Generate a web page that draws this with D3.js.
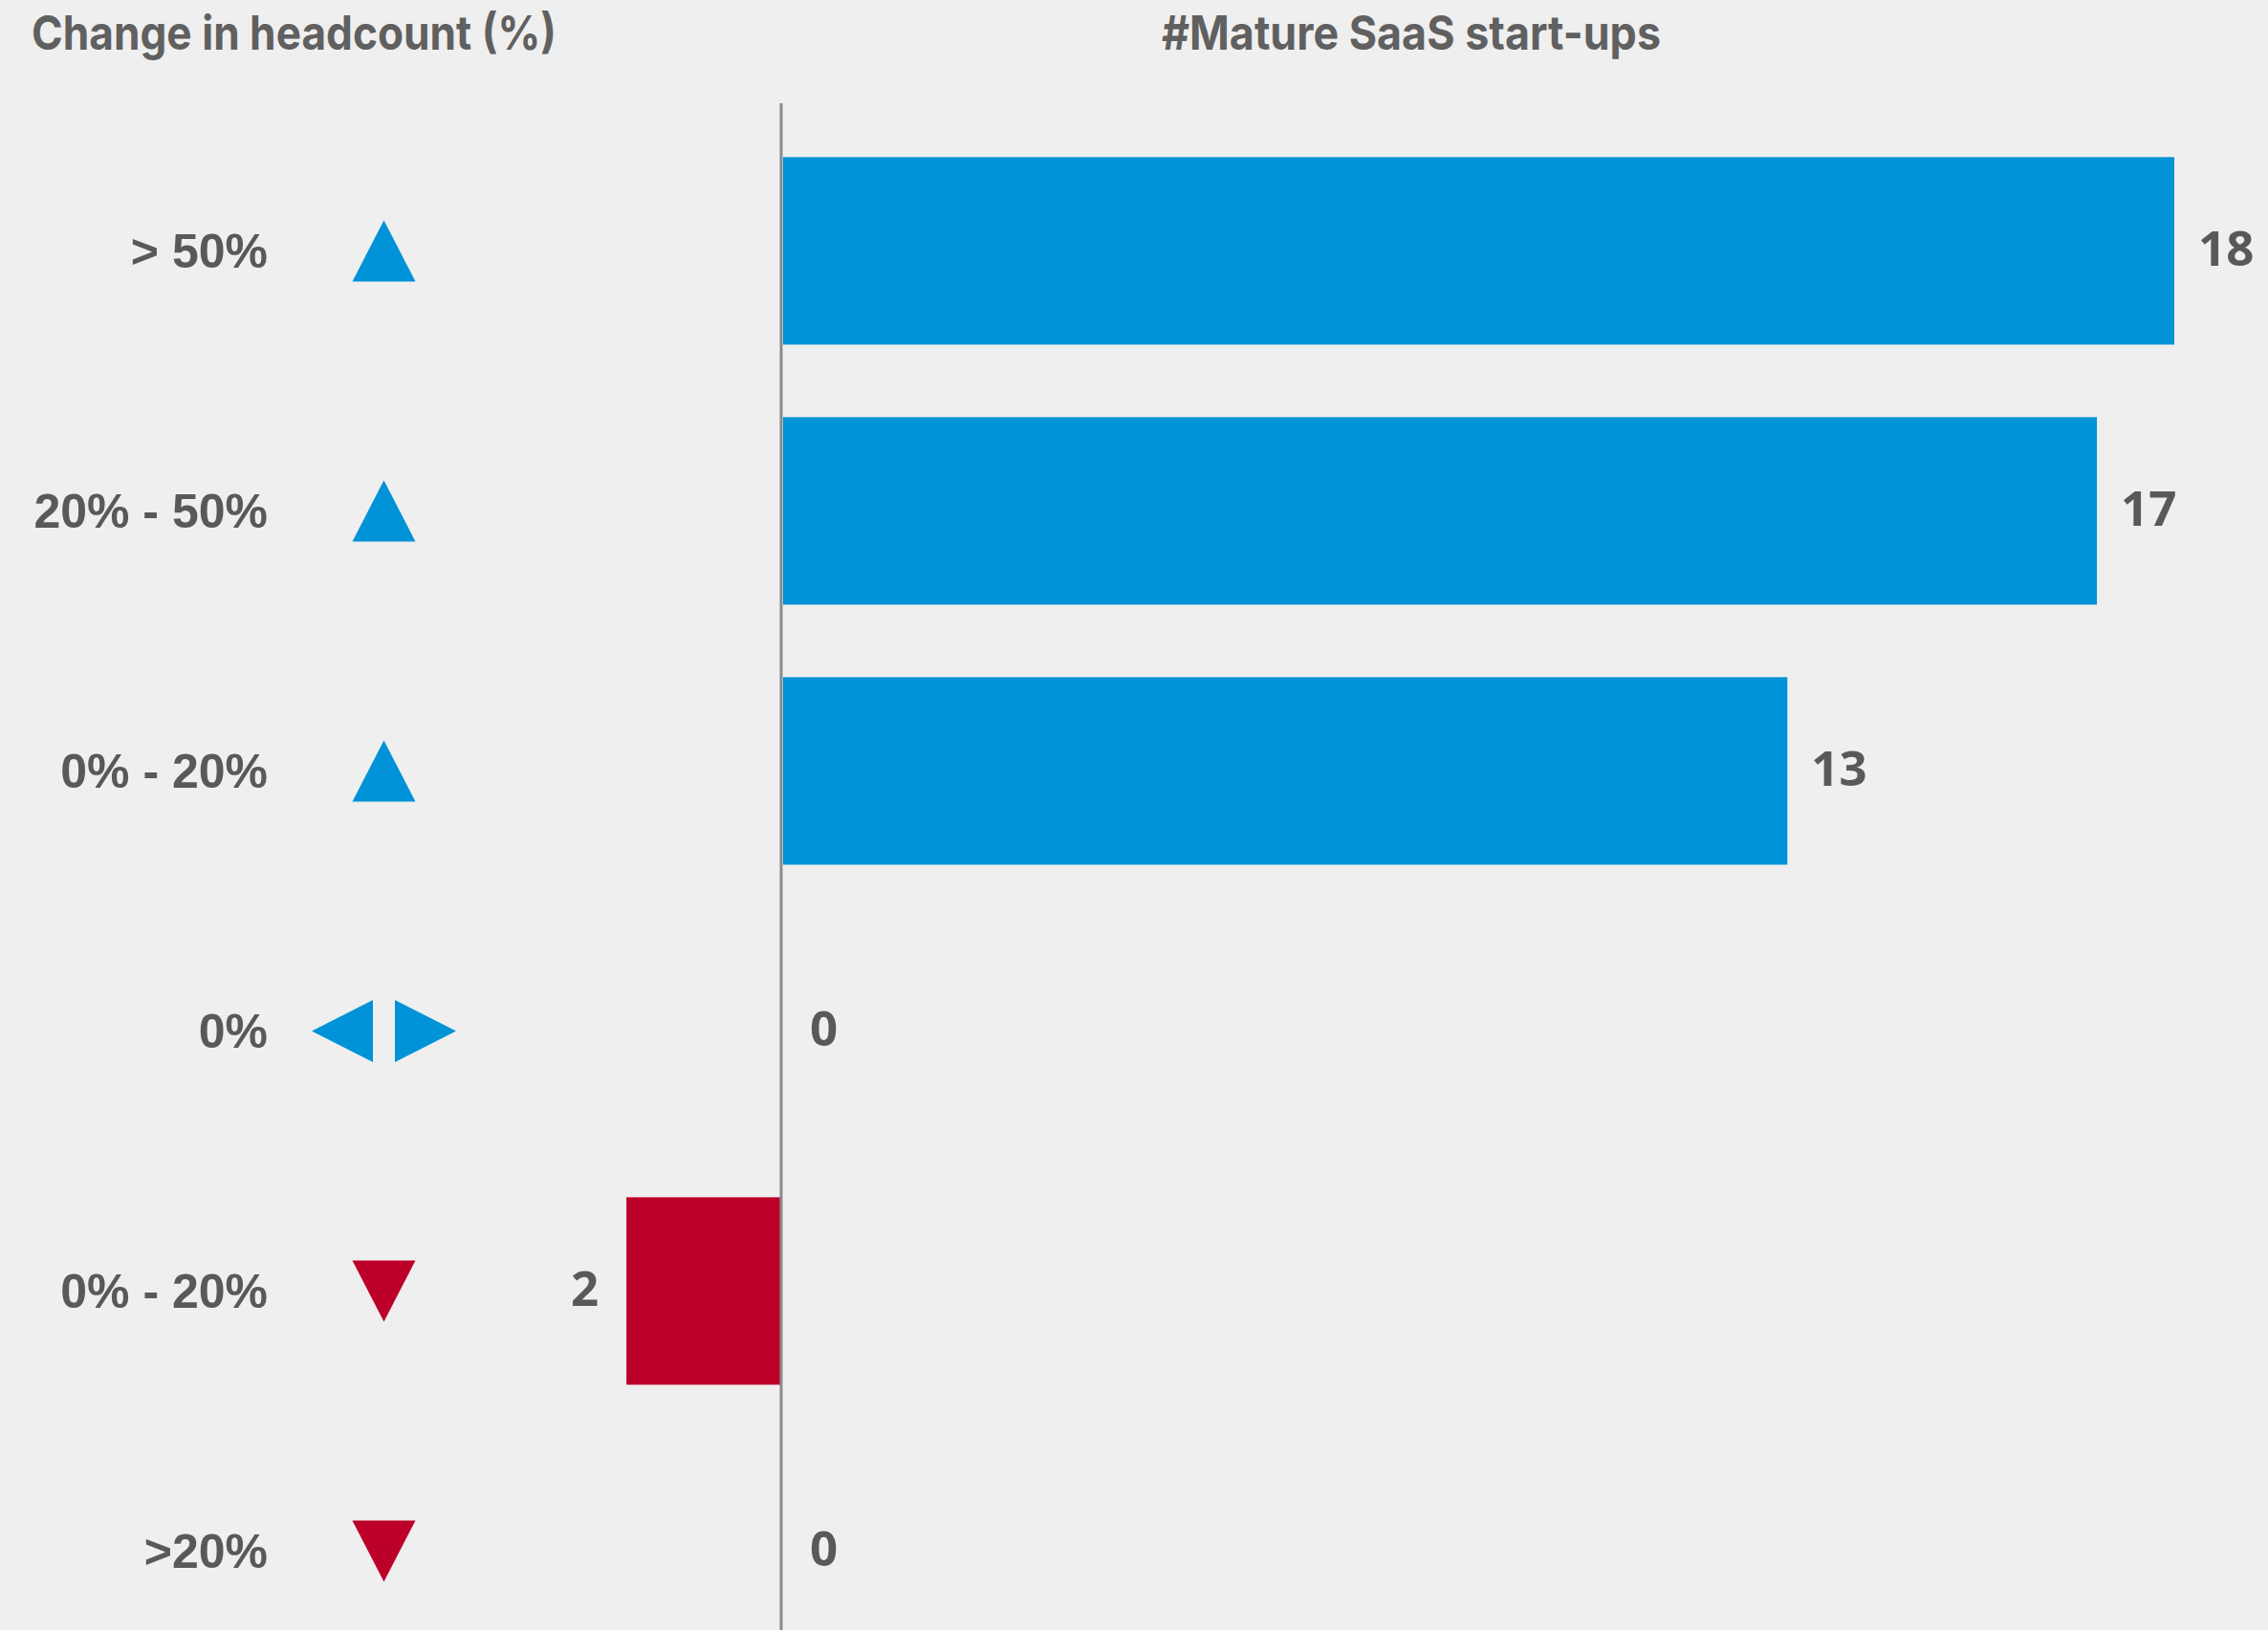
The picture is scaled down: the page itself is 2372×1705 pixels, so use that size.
<!DOCTYPE html>
<html>
<head>
<meta charset="utf-8">
<script src="https://cdn.jsdelivr.net/npm/d3@7"></script>
<style>
  html, body { margin: 0; padding: 0; background: #efefef; }
  svg { display: block; }
</style>
</head>
<body>
<div id="chart"></div>
<script>
// Headcount change buckets (top to bottom)
const categories = ["> 50%", "20% - 50%", "0% - 20%", "0%", "0% - 20%", ">20%"];
// Direction of the change for each bucket
const directions = ["up", "up", "up", "flat", "down", "down"];
// Number of mature SaaS start-ups in each bucket
const counts = [18, 17, 13, 0, 2, 0];

const titleLeft = "Change in headcount (%)";
const titleRight = "#Mature SaaS start-ups";

const W = 2372, H = 1705;
const BLUE = "#0093d7", RED = "#bd0029";
const TEXT = "#58595b", TITLE = "#606060";

const rows = categories.map((c, i) => ({
  key: i, label: c, dir: directions[i], count: counts[i],
  signed: directions[i] === "down" ? -counts[i] : counts[i]
}));

const svg = d3.select("#chart").append("svg")
  .attr("width", W).attr("height", H)
  .attr("viewBox", [0, 0, W, H]);

svg.append("rect").attr("width", W).attr("height", H).attr("fill", "#efefef");

// Scales
const y = d3.scaleBand()
  .domain(rows.map(d => d.key))
  .range([126.4, 1758.4])
  .paddingInner(0.279)
  .paddingOuter(0.1395);

const x = d3.scaleLinear().domain([0, 18]).range([817, 2274]);

const cy = k => y(k) + y.bandwidth() / 2;
const colorOf = d => d.dir === "down" ? RED : BLUE;

// Titles
svg.append("text")
  .attr("x", 33).attr("y", 52)
  .attr("font-family", "Inter, 'Noto Sans', sans-serif")
  .attr("font-weight", 700).attr("font-size", 50)
  .attr("fill", TITLE)
  .attr("textLength", 549).attr("lengthAdjust", "spacingAndGlyphs")
  .text(titleLeft);

svg.append("text")
  .attr("x", 1215).attr("y", 52)
  .attr("font-family", "Inter, 'Noto Sans', sans-serif")
  .attr("font-weight", 700).attr("font-size", 50)
  .attr("fill", TITLE)
  .attr("textLength", 522).attr("lengthAdjust", "spacingAndGlyphs")
  .text(titleRight);

// Bars
svg.append("g").selectAll("rect")
  .data(rows.filter(d => d.count !== 0))
  .join("rect")
  .attr("x", d => Math.min(x(0), x(d.signed)) + (d.signed > 0 ? 2 : 0))
  .attr("y", d => y(d.key))
  .attr("width", d => Math.abs(x(d.signed) - x(0)) - (d.signed > 0 ? 2 : 0))
  .attr("height", y.bandwidth())
  .attr("fill", colorOf);

// Zero line
svg.append("line")
  .attr("x1", x(0)).attr("x2", x(0))
  .attr("y1", 108).attr("y2", H)
  .attr("stroke", "#8a8a8a").attr("stroke-width", 3);

// Value labels
svg.append("g").selectAll("text")
  .data(rows)
  .join("text")
  .attr("x", d => d.signed < 0 ? x(d.signed) - 29 : x(d.signed) + (d.count === 0 ? 30 : 25))
  .attr("y", d => cy(d.key) + 16)
  .attr("text-anchor", d => d.signed < 0 ? "end" : "start")
  .attr("font-family", "'Open Sans', 'Noto Sans', sans-serif")
  .attr("font-weight", 700).attr("font-size", 51)
  .attr("fill", TEXT)
  .text(d => d.count);

// Category labels
svg.append("g").selectAll("text")
  .data(rows)
  .join("text")
  .attr("x", 280)
  .attr("y", d => cy(d.key) + 18)
  .attr("text-anchor", "end")
  .attr("font-family", "'Liberation Sans', Arial, sans-serif")
  .attr("font-weight", 700).attr("font-size", 50)
  .attr("fill", TEXT)
  .text(d => d.label);

// Direction markers
const MX = 401.5;
function markerPath(d) {
  const c = cy(d.key);
  const p = d3.path();
  if (d.dir === "up") {
    p.moveTo(MX - 33, c + 32); p.lineTo(MX, c - 32); p.lineTo(MX + 33, c + 32); p.closePath();
  } else if (d.dir === "down") {
    p.moveTo(MX - 33, c - 32); p.lineTo(MX, c + 32); p.lineTo(MX + 33, c - 32); p.closePath();
  } else {
    // pointing left and right, separated by a small gap
    p.moveTo(MX - 11.5, c - 32.5); p.lineTo(MX - 75.5, c); p.lineTo(MX - 11.5, c + 32.5); p.closePath();
    p.moveTo(MX + 11.5, c - 32.5); p.lineTo(MX + 75.5, c); p.lineTo(MX + 11.5, c + 32.5); p.closePath();
  }
  return p.toString();
}

svg.append("g").selectAll("path")
  .data(rows)
  .join("path")
  .attr("d", markerPath)
  .attr("fill", colorOf);
</script>
</body>
</html>
